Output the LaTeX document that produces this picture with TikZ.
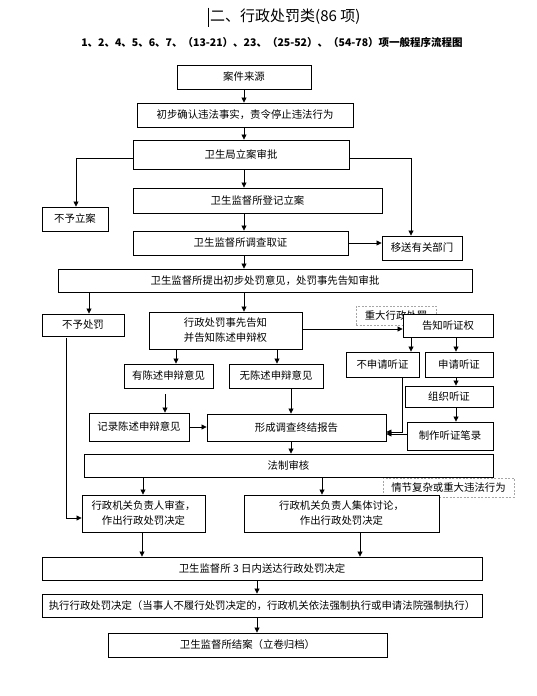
\documentclass[tikz,border=0pt]{standalone}
\usepackage{fontspec}
\setmainfont{Noto Sans CJK SC}
\usetikzlibrary{arrows.meta}
\tikzset{
  box/.style={draw, line width=0.9pt, fill=white, inner sep=1pt, align=center, font=\fontsize{10.4}{15}\selectfont},
  dbox/.style={draw=black!35, dashed, dash pattern=on 2pt off 1.5pt, line width=0.7pt, inner sep=1pt, font=\fontsize{10.4}{12}\selectfont},
  arr/.style={line width=0.8pt, -{Triangle[length=5pt,width=5pt]}},
  ln/.style={line width=0.8pt}
}
\begin{document}
\begin{tikzpicture}[x=1pt,y=-1pt]
\useasboundingbox (0,0) rectangle (536,696);
% titles
\node[anchor=west, inner sep=0, font=\fontsize{15}{18}\selectfont] (title) at (210,17) {二、行政处罚类(86 项)};
\draw[line width=1.6pt] ([xshift=-1.5,yshift=9.5]title.west) -- ([xshift=-1.5,yshift=-9.5]title.west);
\node[font=\fontsize{10.5}{13}\selectfont\bfseries] (sub) at (272,42) {1、2、4、5、6、7、（13-21）、23、（25-52）、（54-78）项一般程序流程图};
% dashed labels (drawn first)
\node[dbox, minimum width=80, minimum height=19] (major) at (396,315.5) {重大行政处罚};
\node[dbox, minimum width=131, minimum height=19] (complex) at (448.5,487.5) {情节复杂或重大违法行为};
% boxes
\node[box, minimum width=134, minimum height=24] (src) at (244,77) {案件来源};
\node[box, minimum width=216, minimum height=24] (confirm) at (245,115) {初步确认违法事实，责令停止违法行为};
\node[box, minimum width=216, minimum height=29] (approve) at (241,154.5) {卫生局立案审批};
\node[box, minimum width=249, minimum height=25] (register) at (257.5,200.5) {卫生监督所登记立案};
\node[box, minimum width=66, minimum height=24] (norec) at (75,219) {不予立案};
\node[box, minimum width=215, minimum height=24] (invest) at (240.5,243) {卫生监督所调查取证};
\node[box, minimum width=80, minimum height=24] (transfer) at (422,248) {移送有关部门};
\node[box, minimum width=414, minimum height=23] (propose) at (265,280.5) {卫生监督所提出初步处罚意见，处罚事先告知审批};
\node[box, minimum width=82, minimum height=22] (nopen) at (83,325) {不予处罚};
\node[box, minimum width=153, minimum height=37] (notify) at (225.5,330.5) {行政处罚事先告知\\并告知陈述申辩权};
\node[box, minimum width=90, minimum height=23] (hearing) at (448,325.5) {告知听证权};
\node[box, minimum width=89, minimum height=24] (hasop) at (168.5,376) {有陈述申辩意见};
\node[box, minimum width=94, minimum height=24] (noop) at (276,376) {无陈述申辩意见};
\node[box, minimum width=73, minimum height=25] (noreq) at (382.5,364.5) {不申请听证};
\node[box, minimum width=68, minimum height=25] (req) at (459,364.5) {申请听证};
\node[box, minimum width=88, minimum height=21] (org) at (449,396.5) {组织听证};
\node[box, minimum width=100, minimum height=28] (record) at (139,427) {记录陈述申辩意见};
\node[box, minimum width=179, minimum height=27] (report) at (296.5,427.5) {形成调查终结报告};
\node[box, minimum width=86, minimum height=28] (minutes) at (450,436) {制作听证笔录};
\node[box, minimum width=409, minimum height=23] (legal) at (288.5,465.5) {法制审核};
\node[box, minimum width=123, minimum height=37] (review) at (143.5,513.5) {行政机关负责人审查，\\作出行政处罚决定};
\node[box, minimum width=195, minimum height=37] (collective) at (341.5,513.5) {行政机关负责人集体讨论，\\作出行政处罚决定};
\node[box, minimum width=440, minimum height=23] (deliver) at (262,568.5) {卫生监督所 3 日内送达行政处罚决定};
\node[box, minimum width=440, minimum height=23] (execute) at (262,605.5) {执行行政处罚决定（当事人不履行处罚决定的，行政机关依法强制执行或申请法院强制执行）};
\node[box, minimum width=279, minimum height=24] (close) at (247.5,645) {卫生监督所结案（立卷归档）};
% connectors
\draw[arr] (src.south) -- (src.south |- confirm.north);
\draw[arr] (src.south |- confirm.south) -- (src.south |- approve.north);
\draw[arr] ([yshift=-3.5]approve.west) -| ([xshift=1]norec.north);
\draw[arr] ([yshift=-3.5]approve.east) -| ([xshift=-11]transfer.north);
\draw[arr] (src.south |- approve.south) -- (src.south |- register.north);
\draw[arr] (src.south |- register.south) -- (src.south |- invest.north);
\draw[arr] (invest.east) -- (invest.east -| transfer.west);
\draw[arr] (src.south |- invest.south) -- (src.south |- propose.north);
\draw[arr] ([xshift=6]nopen.north |- propose.south) -- ([xshift=6]nopen.north);
\draw[arr] (src.south |- propose.south) -- (src.south |- notify.north);
\draw[arr] ([yshift=1.5]notify.east) -- ([yshift=1.5]notify.east -| hearing.west);
\draw[arr] ([xshift=7.5]hasop.north |- notify.south) -- ([xshift=7.5]hasop.north);
\draw[arr] ([xshift=1]noop.north |- notify.south) -- ([xshift=1]noop.north);
\draw[arr] ([xshift=-37]hearing.south) -- ([xshift=-37]hearing.south |- noreq.north);
\draw[arr] ([xshift=8]hearing.south) -- ([xshift=8]hearing.south |- req.north);
\draw[arr] ([xshift=-3]req.south) -- ([xshift=-3]req.south |- org.north);
\draw[arr] ([xshift=-3]req.south |- org.south) -- ([xshift=-3]req.south |- minutes.north);
\draw[arr] ([xshift=19.5]noreq.south) |- ([yshift=-4.5]report.east);
\draw[arr] ([yshift=2]minutes.west) -- ([yshift=2]minutes.west -| report.east);
\draw[arr] ([xshift=-3.5,yshift=-6]hasop.south) -- ([xshift=-3.5]hasop.south |- record.north);
\draw[arr] ([xshift=15]noop.south) -- ([xshift=15]noop.south |- report.north);
\draw[arr] (record.east) -- (record.east -| report.west);
\draw[arr] ([xshift=-5.5]report.south) -- ([xshift=-5.5]report.south |- legal.north);
\draw[arr] ([xshift=-17,yshift=-2]nopen.south) |- ([yshift=-4.5]review.west);
\draw[arr] ([xshift=-0.5]review.north |- legal.south) -- ([xshift=-0.5]review.north);
\draw[arr] ([xshift=-19.5]collective.north |- legal.south) -- ([xshift=-19.5]collective.north);
\draw[arr] ([xshift=-1.5]review.south) -- ([xshift=-1.5]review.south |- deliver.north);
\draw[arr] ([xshift=18.5]collective.south) -- ([xshift=18.5]collective.south |- deliver.north);
\draw[arr] ([xshift=-5]deliver.south) -- ([xshift=-5]deliver.south |- execute.north);
\draw[arr] ([xshift=-5]execute.south) -- ([xshift=-5]execute.south |- close.north);
\end{tikzpicture}
\end{document}
